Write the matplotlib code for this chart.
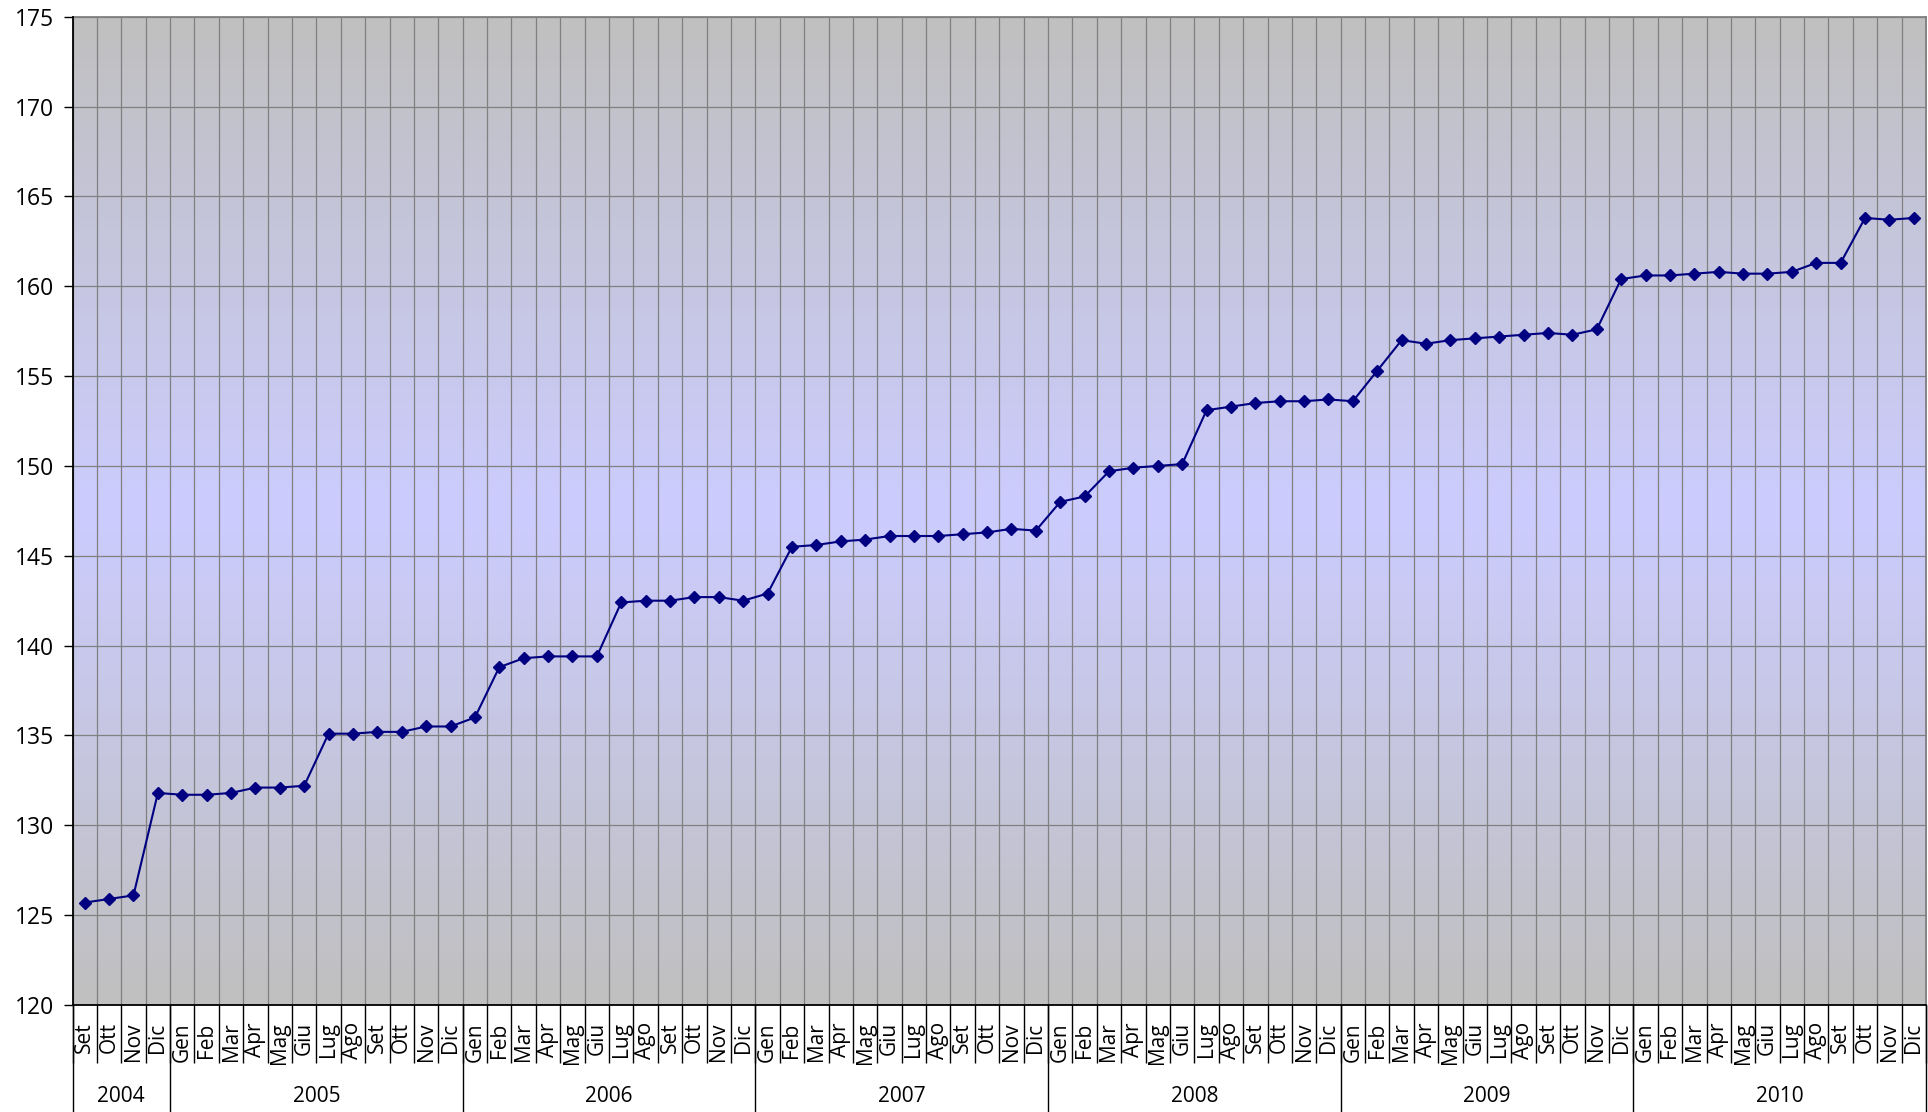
import matplotlib.pyplot as plt
import numpy as np
from matplotlib.colors import LinearSegmentedColormap

plt.rcParams['font.family'] = ['Open Sans', 'DejaVu Sans']

# month labels, Set 2004 .. Dic 2010
mesi = ['Gen', 'Feb', 'Mar', 'Apr', 'Mag', 'Giu',
        'Lug', 'Ago', 'Set', 'Ott', 'Nov', 'Dic']
anni = ['2004', '2005', '2006', '2007', '2008', '2009', '2010']
mesi_per_anno = [4, 12, 12, 12, 12, 12, 12]
labels = mesi[8:] + mesi * 6

valori = [
    125.7, 125.9, 126.1, 131.8,                                  # 2004
    131.7, 131.7, 131.8, 132.1, 132.1, 132.2,
    135.1, 135.1, 135.2, 135.2, 135.5, 135.5,                    # 2005
    136.0, 138.8, 139.3, 139.4, 139.4, 139.4,
    142.4, 142.5, 142.5, 142.7, 142.7, 142.5,                    # 2006
    142.9, 145.5, 145.6, 145.8, 145.9, 146.1,
    146.1, 146.1, 146.2, 146.3, 146.5, 146.4,                    # 2007
    148.0, 148.3, 149.7, 149.9, 150.0, 150.1,
    153.1, 153.3, 153.5, 153.6, 153.6, 153.7,                    # 2008
    153.6, 155.3, 157.0, 156.8, 157.0, 157.1,
    157.2, 157.3, 157.4, 157.3, 157.6, 160.4,                    # 2009
    160.6, 160.6, 160.7, 160.8, 160.7, 160.7,
    160.8, 161.3, 161.3, 163.8, 163.7, 163.8,                    # 2010
]

n = len(valori)
x = np.arange(n)

fig = plt.figure(figsize=(19.28, 11.12), dpi=100)
ax = fig.add_axes([72.5 / 1928, 1 - 1005 / 1112,
                   (1926 - 72.5) / 1928, (1005 - 16.7) / 1112])

ax.set_xlim(-0.5, n - 0.5)
ax.set_ylim(120, 175)

# gradient background gray -> lavender -> gray
cmap = LinearSegmentedColormap.from_list(
    'bg', ['#c0c0c0', '#ccccff', '#c0c0c0'])
grad = np.linspace(0, 1, 256).reshape(-1, 1)
ax.imshow(grad, cmap=cmap, aspect='auto', extent=(-0.5, n - 0.5, 120, 175),
          zorder=0, interpolation='bilinear')

ax.plot(x, valori, color='#000080', lw=1.5, marker='D', markersize=6,
        zorder=3)

# y axis
ax.set_yticks(np.arange(120, 176, 5))
ax.tick_params(axis='y', direction='out', length=6.5, width=1,
               labelsize=16.5, pad=7, colors='black')
ax.grid(axis='y', color='#808080', lw=0.9, zorder=1)

# x axis: separators at month boundaries, labels at centres
ax.set_xticks(np.arange(n + 1) - 0.5)
ax.set_xticklabels([])
ax.tick_params(axis='x', which='major', direction='out', length=41.5,
               width=1, color='black')
ax.set_xticks(x, minor=True)
ax.set_xticklabels(labels, minor=True, rotation=90, fontsize=15)
ax.tick_params(axis='x', which='minor', length=0, pad=12.5)
ax.grid(axis='x', which='major', color='#808080', lw=0.9, zorder=1)
ax.set_axisbelow(True)

for s in ['left', 'bottom']:
    ax.spines[s].set_color('black')
    ax.spines[s].set_linewidth(1.3)
    ax.spines[s].set_zorder(4)
for s in ['top', 'right']:
    ax.spines[s].set_color('#808080')
    ax.spines[s].set_linewidth(1.3)

# year separators and labels
trans = ax.get_xaxis_transform()
confini = np.concatenate([[0], np.cumsum(mesi_per_anno)]) - 0.5
for b in confini:
    ax.plot([b, b], [0, -0.12], transform=trans, color='black', lw=1,
            clip_on=False)
for anno, a, b in zip(anni, confini[:-1], confini[1:]):
    ax.text((a + b) / 2, -0.093, anno, transform=trans, ha='center',
            va='center', fontsize=15)

fig.savefig('out.png', dpi=100)
